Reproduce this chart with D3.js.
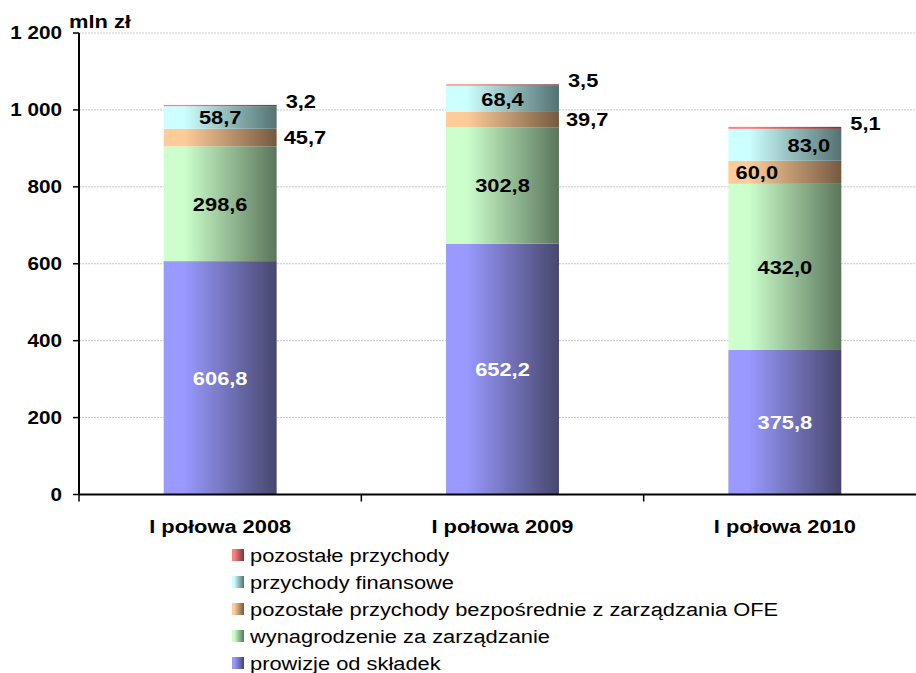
<!DOCTYPE html>
<html>
<head>
<meta charset="utf-8">
<script src="https://cdn.jsdelivr.net/npm/d3@7"></script>
<style>
  body { margin: 0; background: #fff; }
  text { font-family: "Liberation Sans", Arial, sans-serif; }
</style>
</head>
<body>
<script>
var categories = ["I połowa 2008", "I połowa 2009", "I połowa 2010"];
var seriesNames = [
    "prowizje od składek",
    "wynagrodzenie za zarządzanie",
    "pozostałe przychody bezpośrednie z zarządzania OFE",
    "przychody finansowe",
    "pozostałe przychody"
];
var prowizje      = [606.8, 652.2, 375.8];
var wynagrodzenie = [298.6, 302.8, 432.0];
var pozostaleBezp = [45.7, 39.7, 60.0];
var finansowe     = [58.7, 68.4, 83.0];
var pozostale     = [3.2, 3.5, 5.1];
var yTicks = [0, 200, 400, 600, 800, 1000, 1200];
var yTickLabels = ["0", "200", "400", "600", "800", "1 000", "1 200"];

// light -> dark colours for the horizontal gradients
var colors = [
    ["#9999ff", "#47476e"],
    ["#ccffcc", "#5b755b"],
    ["#ffcc99", "#755a40"],
    ["#ccffff", "#547171"],
    ["#ff8080", "#733838"]
];

var width = 916, height = 673;
var plotL = 79, plotR = 926, plotT = 33, plotB = 494.5;
var stretch = 1.15;   // text in the original is a bit wide

var svg = d3.select("body")
            .append("svg")
            .attr('width', width)
            .attr('height', height);

var defs = svg.append("defs");
colors.forEach(function(c, i){
    var g = defs.append("linearGradient")
                .attr('id', "grad" + i)
                .attr('x1', "0%").attr('x2', "100%")
                .attr('y1', "0%").attr('y2', "0%");
    g.append("stop").attr('offset', "0%").attr('stop-color', c[0]);
    g.append("stop").attr('offset', "18%").attr('stop-color', c[0]);
    g.append("stop").attr('offset', "100%").attr('stop-color', c[1]);
});

var table = categories.map(function(c, i){
    return {cat: c, s0: prowizje[i], s1: wynagrodzenie[i], s2: pozostaleBezp[i], s3: finansowe[i], s4: pozostale[i]};
});
var keys = ["s0", "s1", "s2", "s3", "s4"];
var stacked = d3.stack().keys(keys)(table);

var yScale = d3.scaleLinear()
               .domain([0, 1200])
               .range([plotB, plotT]);

var xScale = d3.scaleBand()
               .domain(categories)
               .range([plotL, plotR])
               .padding(0);

var barW = xScale.bandwidth() * 0.4;
function barX(cat){ return xScale(cat) + (xScale.bandwidth() - barW) / 2; }

function putText(sel, x, y){
    return sel.attr('transform', "translate(" + x + "," + y + ") scale(" + stretch + ",1)");
}

// gridlines
svg.selectAll("line.grid")
   .data(yTicks.slice(1))
   .enter()
   .append("line")
   .attr('class', "grid")
   .attr('x1', plotL).attr('x2', plotR)
   .attr('y1', function(d){ return yScale(d); })
   .attr('y2', function(d){ return yScale(d); })
   .attr('stroke', "#c8c8c8")
   .attr('stroke-width', 1)
   .attr('stroke-dasharray', "2,1");

// bars
svg.selectAll("g.layer")
   .data(stacked)
   .enter()
   .append("g")
   .attr('class', "layer")
   .attr('fill', function(d, i){ return "url(#grad" + i + ")"; })
   .selectAll("rect")
   .data(function(d){ return d; })
   .enter()
   .append("rect")
   .attr('x', function(d){ return barX(d.data.cat); })
   .attr('y', function(d){ return yScale(d[1]); })
   .attr('width', barW)
   .attr('height', function(d){ return yScale(d[0]) - yScale(d[1]); });

// value labels
function fmt(v){ return v.toFixed(1).replace(".", ","); }

stacked.forEach(function(layer, li){
    layer.forEach(function(d, ci){
        var v = d[1] - d[0];
        var xr = barX(d.data.cat) + barW;
        var xc = barX(d.data.cat) + barW / 2;
        var yc = yScale((d[0] + d[1]) / 2);
        var x = xc, y = yc, anchor = "middle", fill = "#000";
        if (li === 0) fill = "#fff";
        if (li === 2 && ci < 2) { x = xr + 7; anchor = "start"; }
        if (li === 2 && ci === 2) { x = xc - 28; }
        if (li === 3 && ci === 2) { x = xc + 24; }
        if (li === 4) { x = xr + 9; y = yScale(d[1]) - 4; anchor = "start"; }
        var t = svg.append("text")
                   .attr('text-anchor', anchor)
                   .attr('dy', "0.36em")
                   .attr('font-size', "19px")
                   .attr('font-weight', "bold")
                   .attr('fill', fill)
                   .text(fmt(v));
        putText(t, x, y);
    });
});

// y axis
svg.append("line")
   .attr('x1', plotL).attr('x2', plotL)
   .attr('y1', plotT).attr('y2', plotB)
   .attr('stroke', "#000").attr('stroke-width', 2);

svg.selectAll("line.ytick")
   .data(yTicks)
   .enter()
   .append("line")
   .attr('class', "ytick")
   .attr('x1', plotL - 6).attr('x2', plotL)
   .attr('y1', function(d){ return yScale(d); })
   .attr('y2', function(d){ return yScale(d); })
   .attr('stroke', "#000").attr('stroke-width', 1.5);

yTicks.forEach(function(d, i){
    var t = svg.append("text")
               .attr('text-anchor', "end")
               .attr('dy', "0.36em")
               .attr('font-size', "18px")
               .attr('font-weight', "bold")
               .text(yTickLabels[i]);
    putText(t, 62, yScale(d));
});

putText(svg.append("text")
           .attr('font-size', "19px")
           .attr('font-weight', "bold")
           .text("mln zł"), 69, 28);

// x axis
svg.append("line")
   .attr('x1', plotL).attr('x2', plotR)
   .attr('y1', plotB).attr('y2', plotB)
   .attr('stroke', "#000").attr('stroke-width', 2);

svg.selectAll("line.xtick")
   .data(categories)
   .enter()
   .append("line")
   .attr('class', "xtick")
   .attr('x1', function(d){ return xScale(d); })
   .attr('x2', function(d){ return xScale(d); })
   .attr('y1', plotB).attr('y2', plotB + 7)
   .attr('stroke', "#000").attr('stroke-width', 1.5);

categories.forEach(function(c){
    var t = svg.append("text")
               .attr('text-anchor', "middle")
               .attr('dy', "0.36em")
               .attr('font-size', "19px")
               .attr('font-weight', "bold")
               .text(c);
    putText(t, xScale(c) + xScale.bandwidth() / 2, 526);
});

// legend, top series first
var legendOrder = [4, 3, 2, 1, 0];
legendOrder.forEach(function(si, row){
    var y = 555 + row * 27;
    svg.append("rect")
       .attr('x', 232).attr('y', y - 6)
       .attr('width', 12).attr('height', 12)
       .attr('fill', "url(#grad" + si + ")");
    var t = svg.append("text")
               .attr('dy', "0.36em")
               .attr('font-size', "19px")
               .text(seriesNames[si]);
    putText(t, 250, y);
});
</script>
</body>
</html>
